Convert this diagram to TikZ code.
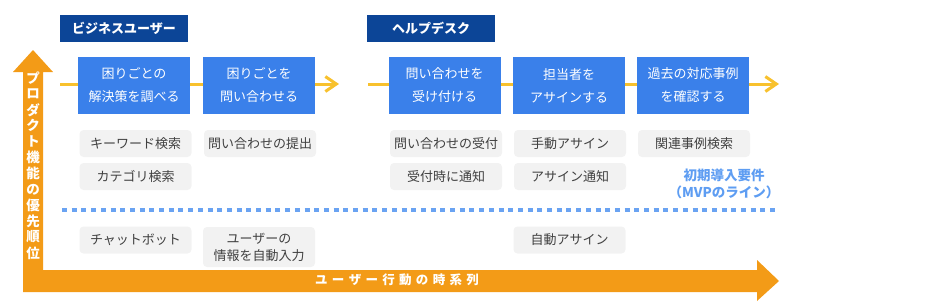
\documentclass[tikz,border=0pt]{standalone}
\usepackage{fontspec}
\setmainfont{Noto Sans CJK JP}
\usetikzlibrary{arrows.meta}
\definecolor{hdrblue}{HTML}{0C4597}
\definecolor{boxblue}{HTML}{3A80EA}
\definecolor{graybox}{HTML}{F2F2F2}
\definecolor{graytext}{HTML}{404040}
\definecolor{flowyellow}{HTML}{F8C12D}
\definecolor{axisorange}{HTML}{F39B17}
\definecolor{mvpblue}{HTML}{5E9DF2}
\definecolor{dotblue}{HTML}{6AA3F2}
\tikzset{
  hdr/.style={fill=hdrblue, text=white, minimum width=128pt, minimum height=27pt, inner sep=0pt,
    font=\fontsize{13}{15}\selectfont\bfseries},
  stepbox/.style={fill=boxblue, text=white, minimum width=112pt, minimum height=57pt, inner sep=0pt,
    align=center, font=\fontsize{13}{23}\selectfont},
  feat/.style={fill=graybox, text=graytext, rounded corners=4pt, minimum width=112pt, minimum height=27pt,
    inner sep=0pt, align=center, font=\fontsize{13}{17}\selectfont},
  flow/.style={draw=flowyellow, line width=3pt, -{Straight Barb[length=11pt,width=15pt,line width=3pt]}},
  vchar/.style={text=white, inner sep=0pt, font=\fontsize{13.5}{13.5}\selectfont\bfseries},
}
\begin{document}
\begin{tikzpicture}[x=1pt,y=-1pt]
\useasboundingbox (0,0) rectangle (925,301);
% axes
\fill[axisorange] (23,292) -- (23,72) -- (13,72) -- (33,50) -- (53,72) -- (43,72) -- (43,270)
  -- (757,270) -- (757,260) -- (779,281) -- (757,301) -- (757,292) -- cycle;
\foreach \c [count=\i] in {プ,ロ,ダ,ク,ト,機,能,の,優,先,順,位}
  \node[vchar] (v\i) at (33,{78+15.9*(\i-1)}) {\c};
\node[text=white, inner sep=0pt, font=\fontsize{12.5}{13}\selectfont\bfseries] (htext) at (397,280)
  {ユ\kern4.3pt ー\kern4.3pt ザ\kern4.3pt ー\kern4.3pt 行\kern4.3pt 動\kern4.3pt の\kern4.3pt 時\kern4.3pt 系\kern4.3pt 列};
% headers
\node[hdr] (h1) at (124,28.5) {ビジネスユーザー};
\node[hdr] (h2) at (431,28.5) {ヘルプデスク};
% flow lines
\coordinate (f1s) at (60,84);
\coordinate (f1e) at (339,84);
\coordinate (f2s) at (368,84);
\coordinate (f2e) at (779,84);
\draw[flow] (f1s) -- (f1e);
\draw[flow] (f2s) -- (f2e);
% step boxes
\node[stepbox] (b1) at (134,85.5) {困りごとの\\解決策を調べる};
\node[stepbox] (b2) at (259,85.5) {困りごとを\\問い合わせる};
\node[stepbox] (b3) at (444.5,85.5) {問い合わせを\\受け付ける};
\node[stepbox] (b4) at (569,85.5) {担当者を\\アサインする};
\node[stepbox] (b5) at (693,85.5) {過去の対応事例\\を確認する};
% features
\node[feat] (g11) at (135.5,143.5) {キーワード検索};
\node[feat] (g12) at (135.5,176.5) {カテゴリ検索};
\node[feat] (g13) at (135.5,240) {チャットボット};
\node[feat] (g21) at (260,143.5) {問い合わせの提出};
\node[feat, minimum height=40pt] (g23) at (259,247) {ユーザーの\\情報を自動入力};
\node[feat] (g31) at (446,143.5) {問い合わせの受付};
\node[feat] (g32) at (446,176.5) {受付時に通知};
\node[feat] (g41) at (570,143.5) {手動アサイン};
\node[feat] (g42) at (570,176.5) {アサイン通知};
\node[feat] (g43) at (569.5,240) {自動アサイン};
\node[feat] (g51) at (694,143.5) {関連事例検索};
% MVP line
\node[text=mvpblue, align=center, inner sep=0pt, font=\fontsize{13.5}{17}\selectfont\bfseries] (mvp) at (724,184)
  {初期導入要件\\（MVPのライン）};
\coordinate (d1) at (62,210);
\coordinate (d2) at (776,210);
\draw[dotblue, line width=3.3pt, dash pattern=on 5pt off 4.7pt] (d1) -- (d2);
\end{tikzpicture}
\end{document}
